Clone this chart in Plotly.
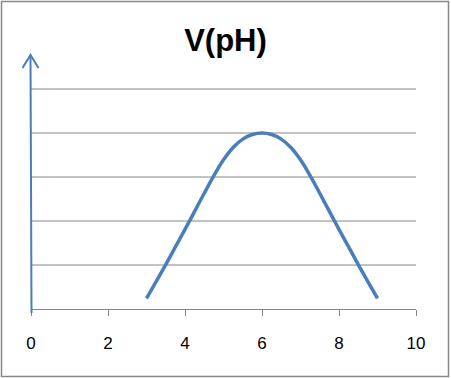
import plotly.graph_objects as go

# Data
ph = [3, 3.25, 3.5, 3.75, 4, 4.25, 4.5, 4.75, 5, 5.25, 5.5, 5.75, 6,
      6.25, 6.5, 6.75, 7, 7.25, 7.5, 7.75, 8, 8.25, 8.5, 8.75, 9]
v = [0.24, 0.62, 1.01, 1.41, 1.81, 2.22, 2.63, 3.03, 3.39, 3.67, 3.86, 3.965, 4.0,
     3.965, 3.86, 3.67, 3.39, 3.03, 2.63, 2.22, 1.81, 1.41, 1.01, 0.62, 0.24]
x_ticks = [0, 2, 4, 6, 8, 10]
grid_levels = [1, 2, 3, 4, 5]

W, H = 451, 378
ML, MR, MT, MB = 31, 35, 45, 69
YMAX = 6
pw = W - ML - MR
ph_h = H - MT - MB

BLUE = "#4a7ebb"
GRID = "#868686"

fig = go.Figure()
fig.add_trace(go.Scatter(x=ph, y=v, mode="lines",
                         line=dict(color=BLUE, width=3.5, shape="spline", smoothing=1.0),
                         hoverinfo="skip", showlegend=False))


def px(xp):
    return (xp - ML) / pw


def py(yp):
    return (H - MB - yp) / ph_h


shapes = []
for g in grid_levels:
    shapes.append(dict(type="line", xref="paper", yref="y", x0=0, x1=1, y0=g, y1=g,
                       line=dict(color=GRID, width=1), layer="below"))
# y-axis arrow (pixel-based decoration)
tip_y = 55
shapes.append(dict(type="line", xref="paper", yref="paper",
                   x0=px(31.5), x1=px(30.5), y0=py(313), y1=py(tip_y),
                   line=dict(color=BLUE, width=2)))
shapes.append(dict(type="path", xref="paper", yref="paper",
                   path=f"M {px(22.5)},{py(68)} L {px(30.5)},{py(tip_y)} L {px(38.5)},{py(68)}",
                   line=dict(color=BLUE, width=2)))
# outer border
shapes.append(dict(type="rect", xref="paper", yref="paper",
                   x0=px(1.5), x1=px(448.5), y0=py(376.5), y1=py(1.5),
                   line=dict(color="#888888", width=1.5)))

fig.update_layout(
    width=W, height=H,
    margin=dict(l=ML, r=MR, t=MT, b=MB),
    paper_bgcolor="white", plot_bgcolor="white",
    title=dict(text="<b>V(pH)</b>", x=0.5, xanchor="center", xref="container",
               y=1 - 40 / H, yanchor="middle", yref="container",
               font=dict(family="Liberation Sans", size=31, color="black")),
    xaxis=dict(range=[0, 10], tickvals=x_ticks, ticktext=[str(t) for t in x_ticks],
               showgrid=False, zeroline=False, showline=True, linecolor=GRID, linewidth=1,
               ticks="outside", ticklen=6, tickcolor=GRID, tickwidth=1,
               ticklabelstandoff=13,
               tickfont=dict(family="Liberation Sans", size=17, color="black"),
               fixedrange=True),
    yaxis=dict(range=[0, YMAX], showgrid=False, zeroline=False, showticklabels=False,
               showline=False, fixedrange=True),
    shapes=shapes,
)

fig.write_html("out.html", config={"displayModeBar": False},
               post_script="document.body.style.margin='0';document.body.style.padding='0';")
